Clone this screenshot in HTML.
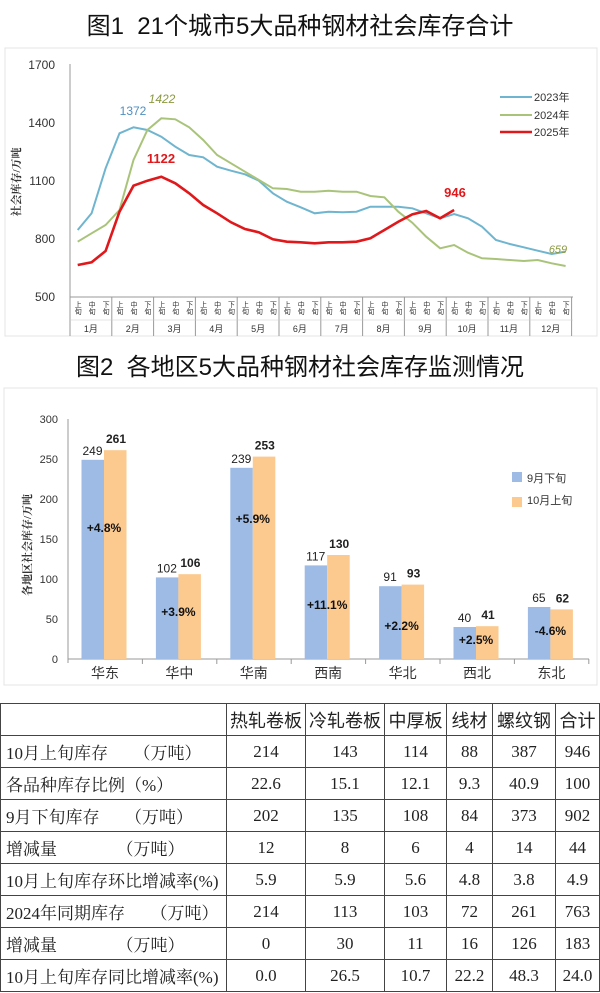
<!DOCTYPE html>
<html><head><meta charset="utf-8">
<style>
html,body{margin:0;padding:0;background:#fff;}
body{width:600px;height:993px;position:relative;overflow:hidden;font-family:"Liberation Sans","Noto Sans CJK SC",sans-serif;}
.t{position:absolute;left:0;width:600px;text-align:center;font-size:24px;color:#111;}
table{position:absolute;left:0;top:703px;border-collapse:collapse;font-family:"Liberation Serif","Noto Serif CJK SC",serif;font-size:17px;color:#222;}
td{border:1px solid #444;height:31px;padding:0;text-align:center;}
td.l{text-align:left;padding-left:5px;white-space:pre;}
tr.h td{font-family:"Liberation Sans","Noto Sans CJK SC",sans-serif;font-size:18px;}
</style></head><body>
<div class="t" style="top:6px;">图1&nbsp; 21个城市5大品种钢材社会库存合计</div>
<div class="t" style="top:347px;">图2&nbsp; 各地区5大品种钢材社会库存监测情况</div>

<svg width="600" height="993" style="position:absolute;left:0;top:0" font-family="Liberation Sans, Noto Sans CJK SC, sans-serif">
<rect x="5" y="48" width="592" height="288" fill="none" stroke="#e4e4e4"/>
<g font-size="12" fill="#333" text-anchor="end">
<text x="55" y="69">1700</text><text x="55" y="127">1400</text><text x="55" y="185">1100</text><text x="55" y="243">800</text><text x="55" y="301">500</text>
</g>
<text transform="translate(20,182) rotate(-90)" font-size="11" text-anchor="middle" fill="#333" font-family="Liberation Serif, Noto Serif CJK SC, serif" font-weight="bold">社会库存/万吨</text>
<line x1="70" y1="64" x2="70" y2="336" stroke="#999"/>
<line x1="70" y1="297" x2="573" y2="297" stroke="#999"/>
<g id="xt"></g>
<polyline id="p23" fill="none" stroke="#6fb5cf" stroke-width="2"/>
<polyline id="p24" fill="none" stroke="#a9c47a" stroke-width="2"/>
<polyline id="p25" fill="none" stroke="#e0181b" stroke-width="2.6"/>
<text x="133" y="115" font-size="12" fill="#4f8fc0" text-anchor="middle">1372</text>
<text x="162" y="103" font-size="12" fill="#8a9a40" font-style="italic" text-anchor="middle">1422</text>
<text x="161" y="163" font-size="13" fill="#e0181b" font-weight="bold" text-anchor="middle">1122</text>
<text x="455" y="197" font-size="13" fill="#e0181b" font-weight="bold" text-anchor="middle">946</text>
<text x="558" y="253" font-size="11" fill="#8a9a40" font-style="italic" text-anchor="middle">659</text>
<g font-size="11" fill="#333">
<line x1="500" y1="97" x2="532" y2="97" stroke="#6fb5cf" stroke-width="2"/><text x="534" y="101">2023年</text>
<line x1="500" y1="115" x2="532" y2="115" stroke="#a9c47a" stroke-width="2"/><text x="534" y="119">2024年</text>
<line x1="500" y1="132" x2="532" y2="132" stroke="#e0181b" stroke-width="2.6"/><text x="534" y="136">2025年</text>
</g>

<!-- chart 2 -->
<rect x="4" y="388" width="593" height="297" fill="none" stroke="#e4e4e4"/>
<g font-size="11" fill="#333" text-anchor="end">
<text x="58" y="423">300</text><text x="58" y="463">250</text><text x="58" y="503">200</text><text x="58" y="543">150</text><text x="58" y="583">100</text><text x="58" y="623">50</text><text x="58" y="663">0</text>
</g>
<text transform="translate(31,545) rotate(-90)" font-size="11" text-anchor="middle" fill="#333" font-family="Liberation Serif, Noto Serif CJK SC, serif" font-weight="bold">各地区社会库存/万吨</text>
<line x1="68" y1="419" x2="68" y2="663" stroke="#999"/>
<line x1="68" y1="659" x2="589" y2="659" stroke="#999"/>
<g id="bars"></g>
<g font-size="11" fill="#333">
<rect x="512" y="472" width="10" height="10" fill="#9dbbe5"/><text x="527" y="482">9月下旬</text>
<rect x="512" y="497" width="10" height="10" fill="#fcc98e"/><text x="527" y="504">10月上旬</text>
</g>
</svg>

<table>
<colgroup><col style="width:226px"><col style="width:79px"><col style="width:79px"><col style="width:62px"><col style="width:46px"><col style="width:63px"><col style="width:44px"></colgroup>
<tr class="h"><td></td><td>热轧卷板</td><td>冷轧卷板</td><td>中厚板</td><td>线材</td><td>螺纹钢</td><td>合计</td></tr>
<tr><td class="l">10月上旬库存      （万吨）</td><td>214</td><td>143</td><td>114</td><td>88</td><td>387</td><td>946</td></tr>
<tr><td class="l">各品种库存比例（%）</td><td>22.6</td><td>15.1</td><td>12.1</td><td>9.3</td><td>40.9</td><td>100</td></tr>
<tr><td class="l">9月下旬库存      （万吨）</td><td>202</td><td>135</td><td>108</td><td>84</td><td>373</td><td>902</td></tr>
<tr><td class="l">增减量              （万吨）</td><td>12</td><td>8</td><td>6</td><td>4</td><td>14</td><td>44</td></tr>
<tr><td class="l">10月上旬库存环比增减率(%)</td><td>5.9</td><td>5.9</td><td>5.6</td><td>4.8</td><td>3.8</td><td>4.9</td></tr>
<tr><td class="l">2024年同期库存      （万吨）</td><td>214</td><td>113</td><td>103</td><td>72</td><td>261</td><td>763</td></tr>
<tr><td class="l">增减量              （万吨）</td><td>0</td><td>30</td><td>11</td><td>16</td><td>126</td><td>183</td></tr>
<tr><td class="l">10月上旬库存同比增减率(%)</td><td>0.0</td><td>26.5</td><td>10.7</td><td>22.2</td><td>48.3</td><td>24.0</td></tr>
</table>

<script>
var NS="http://www.w3.org/2000/svg";
function pts(a){return a.map(function(z,i){return (77.7+i*13.94).toFixed(1)+","+(40+z/3).toFixed(1)}).join(" ");}
document.getElementById("p23").setAttribute("points",pts([570,520,385,280,262,270,290,320,345,352,380,392,403,422,460,485,502,520,515,517,515,500,500,500,505,520,535,522,535,560,600,612,622,632,642,635]));
document.getElementById("p24").setAttribute("points",pts([605,580,555,510,360,270,235,238,262,300,345,370,395,420,445,447,455,455,452,455,455,468,472,515,548,590,625,615,638,655,657,660,663,660,670,678]));
document.getElementById("p25").setAttribute("points",pts([675,667,633,515,437,422,410,430,460,495,520,547,567,577,598,605,607,610,607,607,605,595,570,545,523,513,535,510]));
var g=document.getElementById("xt"),s="";
var lab=["上旬","中旬","下旬"];
for(var i=0;i<36;i++){var x=77.7+i*13.94;s+='<text x="'+x+'" y="301" font-size="7" fill="#333" style="writing-mode:tb" text-anchor="start">'+lab[i%3]+'</text>';}
for(var m=0;m<=12;m++){var x=70+m*41.8;s+='<line x1="'+x+'" y1="297" x2="'+x+'" y2="336" stroke="#999"/>';if(m<12)s+='<text x="'+(x+20.9)+'" y="332" font-size="9" fill="#333" text-anchor="middle">'+(m+1)+'月</text>';}
s+='<line x1="70" y1="320" x2="573" y2="320" stroke="#ccc" stroke-width="0.5"/>';
g.innerHTML=s;
var b=[[249,261,"华东","+4.8%"],[102,106,"华中","+3.9%"],[239,253,"华南","+5.9%"],[117,130,"西南","+11.1%"],[91,93,"华北","+2.2%"],[40,41,"西北","+2.5%"],[65,62,"东北","-4.6%"]];
s="";
b.forEach(function(d,k){var x0=68+k*74.4,bx=x0+13.5,ox=x0+36;
var y1=659-d[0]*0.8,y2=659-d[1]*0.8;
s+='<rect x="'+bx+'" y="'+y1+'" width="22.5" height="'+(659-y1)+'" fill="#9dbbe5"/>';
s+='<rect x="'+ox+'" y="'+y2+'" width="22.5" height="'+(659-y2)+'" fill="#fcc98e"/>';
s+='<text x="'+(bx+11)+'" y="'+(y1-5)+'" font-size="12" fill="#222" text-anchor="middle">'+d[0]+'</text>';
s+='<text x="'+(ox+12)+'" y="'+(y2-7)+'" font-size="12" font-weight="bold" fill="#222" text-anchor="middle">'+d[1]+'</text>';
var py=Math.min(659-(Math.min(d[0],d[1])*0.8)/2+4,645);
if(k==0)py=532;if(k==2)py=523;if(k==1)py=616;if(k==3)py=609;if(k==4)py=630;if(k==5)py=644;if(k==6)py=635;
s+='<text x="'+(ox)+'" y="'+py+'" font-size="12" font-weight="bold" fill="#111" text-anchor="middle">'+d[3]+'</text>';
s+='<line x1="'+(x0+74.4)+'" y1="659" x2="'+(x0+74.4)+'" y2="664" stroke="#999"/>';
s+='<text x="'+(x0+37)+'" y="678" font-size="14" fill="#333" text-anchor="middle">'+d[2]+'</text>';
});
document.getElementById("bars").innerHTML=s;
</script>
</body></html>
